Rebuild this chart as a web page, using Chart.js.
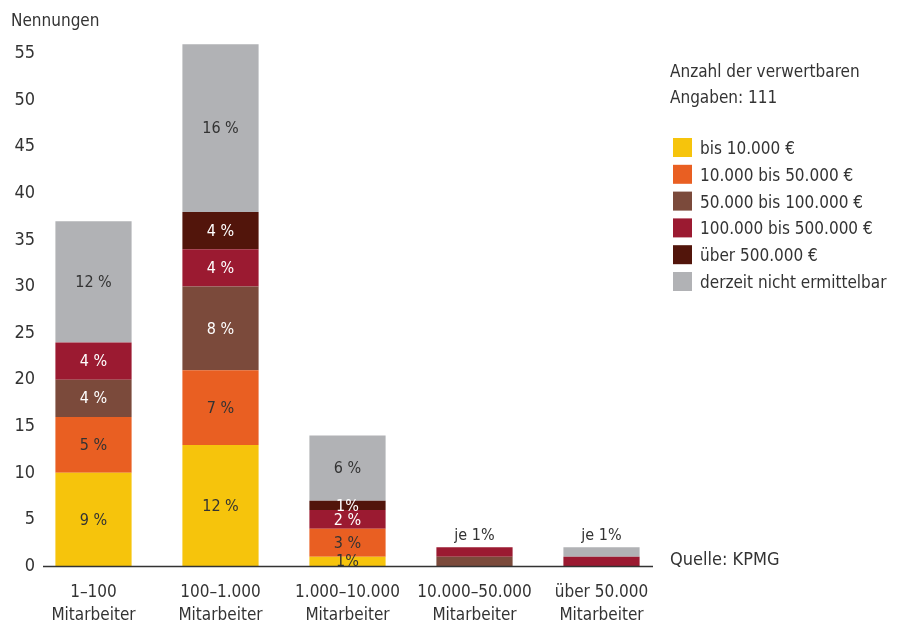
<!DOCTYPE html>
<html>
<head>
<meta charset="utf-8">
<script src="https://cdn.jsdelivr.net/npm/chart.js@4"></script>
<style>
  html, body { margin: 0; padding: 0; background: #fff; }
  #wrap { width: 901px; height: 626px; position: relative; }
</style>
</head>
<body>
<div id="wrap"><canvas id="chart" width="901" height="626"></canvas></div>
<script>
const FONT = "'Liberation Sans Narrow', 'DejaVu Sans Condensed', 'Roboto', sans-serif";
const TEXT = '#333333';

const categories = [
  ['1–100', 'Mitarbeiter'],
  ['100–1.000', 'Mitarbeiter'],
  ['1.000–10.000', 'Mitarbeiter'],
  ['10.000–50.000', 'Mitarbeiter'],
  ['über 50.000', 'Mitarbeiter'],
];

const seriesNames = [
  'bis 10.000 €',
  '10.000 bis 50.000 €',
  '50.000 bis 100.000 €',
  '100.000 bis 500.000 €',
  'über 500.000 €',
  'derzeit nicht ermittelbar',
];
const seriesColors = ['#f6c40c', '#e95f22', '#7b4a3b', '#9b1a31', '#52150b', '#b1b2b5'];
const labelColors = [TEXT, TEXT, '#ffffff', '#ffffff', '#ffffff', TEXT];

// Nennungen per category
const bis10k = [10, 13, 1, 0, 0];
const bis50k = [6, 8, 3, 0, 0];
const bis100k = [4, 9, 0, 1, 0];
const bis500k = [4, 4, 2, 1, 1];
const ueber500k = [0, 4, 1, 0, 0];
const nichtErmittelbar = [13, 18, 7, 0, 1];

// percent labels printed in the segments
const pctBis10k = ['9 %', '12 %', '1%', '', ''];
const pctBis50k = ['5 %', '7 %', '3 %', '', ''];
const pctBis100k = ['4 %', '8 %', '', '', ''];
const pctBis500k = ['4 %', '4 %', '2 %', '', ''];
const pctUeber500k = ['', '4 %', '1%', '', ''];
const pctNicht = ['12 %', '16 %', '6 %', '', ''];

const topNotes = ['', '', '', 'je 1%', 'je 1%'];
const yTicks = [0, 5, 10, 15, 20, 25, 30, 35, 40, 45, 50, 55];

const values = [bis10k, bis50k, bis100k, bis500k, ueber500k, nichtErmittelbar];
const pctLabels = [pctBis10k, pctBis50k, pctBis100k, pctBis500k, pctUeber500k, pctNicht];

const datasets = seriesNames.map((name, i) => ({
  label: name,
  data: values[i],
  backgroundColor: seriesColors[i],
  borderWidth: 0,
  barPercentage: 0.6,
  categoryPercentage: 1,
}));

const decorations = {
  id: 'decorations',
  afterDatasetsDraw(chart) {
    const ctx = chart.ctx;
    const x = chart.scales.x, y = chart.scales.y;
    ctx.save();
    ctx.textAlign = 'center';
    ctx.textBaseline = 'middle';
    ctx.font = '16px ' + FONT;
    // segment labels
    chart.data.datasets.forEach((ds, i) => {
      const meta = chart.getDatasetMeta(i);
      meta.data.forEach((bar, j) => {
        const txt = pctLabels[i][j];
        if (!txt) return;
        ctx.fillStyle = labelColors[i];
        ctx.fillText(txt, bar.x, (bar.y + bar.base) / 2 + 1);
      });
    });
    // notes above small bars
    topNotes.forEach((note, j) => {
      if (!note) return;
      const total = values.reduce((s, arr) => s + arr[j], 0);
      ctx.fillStyle = TEXT;
      ctx.fillText(note, x.getPixelForValue(j), y.getPixelForValue(total) - 12);
    });
    // base line
    const y0 = Math.round(y.getPixelForValue(0)) + 0.5;
    ctx.strokeStyle = '#333';
    ctx.lineWidth = 1.5;
    ctx.beginPath();
    ctx.moveTo(43, y0);
    ctx.lineTo(653, y0);
    ctx.stroke();

    ctx.textAlign = 'left';
    ctx.fillStyle = TEXT;
    ctx.font = '18px ' + FONT;
    ctx.fillText('Quelle: KPMG', 670, y0 - 6);
    ctx.font = '17px ' + FONT;
    ctx.fillText('Nennungen', 11, 22);

    // legend
    ctx.fillText('Anzahl der verwertbaren', 670, 73);
    ctx.fillText('Angaben: 111', 670, 99);
    chart.data.datasets.forEach((ds, i) => {
      const cy = 148 + i * 26.8;
      ctx.fillStyle = ds.backgroundColor;
      ctx.fillRect(673, cy - 10, 19, 19);
      ctx.fillStyle = TEXT;
      ctx.fillText(ds.label, 700, cy + 1.5);
    });
    ctx.restore();
  }
};

new Chart(document.getElementById('chart'), {
  type: 'bar',
  data: { labels: categories, datasets },
  options: {
    responsive: false,
    animation: false,
    layout: { padding: { top: 35, right: 236, bottom: 0, left: 0 } },
    plugins: { legend: { display: false }, tooltip: { enabled: false } },
    scales: {
      x: {
        stacked: true,
        grid: { display: false, drawTicks: false },
        border: { display: false },
        ticks: { color: TEXT, font: { size: 17, family: FONT, lineHeight: 1.3 }, padding: 16, maxRotation: 0, autoSkip: false },
        afterFit(s) { s.height = 60; },
      },
      y: {
        stacked: true,
        min: 0,
        max: 57,
        grid: { display: false, drawTicks: false },
        border: { display: false },
        ticks: { color: TEXT, font: { size: 18, family: FONT }, padding: -5 },
        afterBuildTicks(s) { s.ticks = yTicks.map(v => ({ value: v })); },
        afterFit(s) {
          s.width = 30;
          // labels reach a few px past the axis box, so don't clip them
          s._computeLabelArea = () => undefined;
        },
      },
    },
  },
  plugins: [decorations],
});
</script>
</body>
</html>
